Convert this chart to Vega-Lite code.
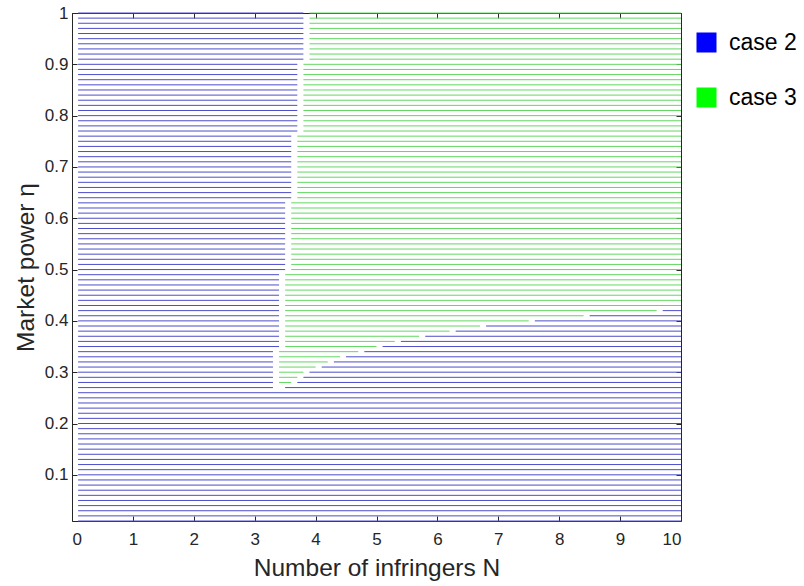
{
  "$schema": "https://vega.github.io/schema/vega-lite/v6.json",
  "autosize": {"type": "none"},
  "width": 609,
  "height": 508,
  "padding": {"left": 72, "top": 13, "right": 123, "bottom": 65},
  "background": "white",
  "config": {"view": {"stroke": null}, "font": "Liberation Sans"},
  "datasets": {
    "segs": [
    {"e":0.01,"a":0.1,"b":10,"c":"case 2"},{"e":0.02,"a":0.1,"b":10,"c":"case 2"},{"e":0.03,"a":0.1,"b":10,"c":"case 2"},{"e":0.04,"a":0.1,"b":10,"c":"case 2"},{"e":0.05,"a":0.1,"b":10,"c":"case 2"},
    {"e":0.06,"a":0.1,"b":10,"c":"case 2"},{"e":0.07,"a":0.1,"b":10,"c":"case 2"},{"e":0.08,"a":0.1,"b":10,"c":"case 2"},{"e":0.09,"a":0.1,"b":10,"c":"case 2"},{"e":0.10,"a":0.1,"b":10,"c":"case 2"},
    {"e":0.11,"a":0.1,"b":10,"c":"case 2"},{"e":0.12,"a":0.1,"b":10,"c":"case 2"},{"e":0.13,"a":0.1,"b":10,"c":"case 2"},{"e":0.14,"a":0.1,"b":10,"c":"case 2"},{"e":0.15,"a":0.1,"b":10,"c":"case 2"},
    {"e":0.16,"a":0.1,"b":10,"c":"case 2"},{"e":0.17,"a":0.1,"b":10,"c":"case 2"},{"e":0.18,"a":0.1,"b":10,"c":"case 2"},{"e":0.19,"a":0.1,"b":10,"c":"case 2"},{"e":0.20,"a":0.1,"b":10,"c":"case 2"},
    {"e":0.21,"a":0.1,"b":10,"c":"case 2"},{"e":0.22,"a":0.1,"b":10,"c":"case 2"},{"e":0.23,"a":0.1,"b":10,"c":"case 2"},{"e":0.24,"a":0.1,"b":10,"c":"case 2"},{"e":0.25,"a":0.1,"b":10,"c":"case 2"},
    {"e":0.26,"a":0.1,"b":10,"c":"case 2"},
    {"e":0.27,"a":0.1,"b":3.3,"c":"case 2"},{"e":0.27,"a":3.5,"b":10,"c":"case 2"},
    {"e":0.28,"a":0.1,"b":3.3,"c":"case 2"},{"e":0.28,"a":3.4,"b":3.6,"c":"case 3"},{"e":0.28,"a":3.7,"b":10,"c":"case 2"},
    {"e":0.29,"a":0.1,"b":3.3,"c":"case 2"},{"e":0.29,"a":3.4,"b":3.7,"c":"case 3"},{"e":0.29,"a":3.8,"b":10,"c":"case 2"},
    {"e":0.30,"a":0.1,"b":3.3,"c":"case 2"},{"e":0.30,"a":3.4,"b":3.8,"c":"case 3"},{"e":0.30,"a":3.9,"b":10,"c":"case 2"},
    {"e":0.31,"a":0.1,"b":3.3,"c":"case 2"},{"e":0.31,"a":3.4,"b":4.0,"c":"case 3"},{"e":0.31,"a":4.1,"b":10,"c":"case 2"},
    {"e":0.32,"a":0.1,"b":3.3,"c":"case 2"},{"e":0.32,"a":3.4,"b":4.2,"c":"case 3"},{"e":0.32,"a":4.3,"b":10,"c":"case 2"},
    {"e":0.33,"a":0.1,"b":3.3,"c":"case 2"},{"e":0.33,"a":3.4,"b":4.4,"c":"case 3"},{"e":0.33,"a":4.5,"b":10,"c":"case 2"},
    {"e":0.34,"a":0.1,"b":3.3,"c":"case 2"},{"e":0.34,"a":3.4,"b":4.7,"c":"case 3"},{"e":0.34,"a":4.8,"b":10,"c":"case 2"},
    {"e":0.35,"a":0.1,"b":3.4,"c":"case 2"},{"e":0.35,"a":3.5,"b":5.0,"c":"case 3"},{"e":0.35,"a":5.1,"b":10,"c":"case 2"},
    {"e":0.36,"a":0.1,"b":3.4,"c":"case 2"},{"e":0.36,"a":3.5,"b":5.3,"c":"case 3"},{"e":0.36,"a":5.4,"b":10,"c":"case 2"},
    {"e":0.37,"a":0.1,"b":3.4,"c":"case 2"},{"e":0.37,"a":3.5,"b":5.7,"c":"case 3"},{"e":0.37,"a":5.8,"b":10,"c":"case 2"},
    {"e":0.38,"a":0.1,"b":3.4,"c":"case 2"},{"e":0.38,"a":3.5,"b":6.2,"c":"case 3"},{"e":0.38,"a":6.3,"b":10,"c":"case 2"},
    {"e":0.39,"a":0.1,"b":3.4,"c":"case 2"},{"e":0.39,"a":3.5,"b":6.7,"c":"case 3"},{"e":0.39,"a":6.8,"b":10,"c":"case 2"},
    {"e":0.40,"a":0.1,"b":3.4,"c":"case 2"},{"e":0.40,"a":3.5,"b":7.5,"c":"case 3"},{"e":0.40,"a":7.6,"b":10,"c":"case 2"},
    {"e":0.41,"a":0.1,"b":3.4,"c":"case 2"},{"e":0.41,"a":3.5,"b":8.4,"c":"case 3"},{"e":0.41,"a":8.5,"b":10,"c":"case 2"},
    {"e":0.42,"a":0.1,"b":3.4,"c":"case 2"},{"e":0.42,"a":3.5,"b":9.6,"c":"case 3"},{"e":0.42,"a":9.7,"b":10,"c":"case 2"},
    {"e":0.43,"a":0.1,"b":3.4,"c":"case 2"},{"e":0.43,"a":3.5,"b":10,"c":"case 3"},
    {"e":0.44,"a":0.1,"b":3.4,"c":"case 2"},{"e":0.44,"a":3.5,"b":10,"c":"case 3"},
    {"e":0.45,"a":0.1,"b":3.4,"c":"case 2"},{"e":0.45,"a":3.5,"b":10,"c":"case 3"},
    {"e":0.46,"a":0.1,"b":3.4,"c":"case 2"},{"e":0.46,"a":3.5,"b":10,"c":"case 3"},
    {"e":0.47,"a":0.1,"b":3.4,"c":"case 2"},{"e":0.47,"a":3.5,"b":10,"c":"case 3"},
    {"e":0.48,"a":0.1,"b":3.4,"c":"case 2"},{"e":0.48,"a":3.5,"b":10,"c":"case 3"},
    {"e":0.49,"a":0.1,"b":3.4,"c":"case 2"},{"e":0.49,"a":3.5,"b":10,"c":"case 3"},
    {"e":0.50,"a":0.1,"b":3.5,"c":"case 2"},{"e":0.50,"a":3.6,"b":10,"c":"case 3"},
    {"e":0.51,"a":0.1,"b":3.5,"c":"case 2"},{"e":0.51,"a":3.6,"b":10,"c":"case 3"},
    {"e":0.52,"a":0.1,"b":3.5,"c":"case 2"},{"e":0.52,"a":3.6,"b":10,"c":"case 3"},
    {"e":0.53,"a":0.1,"b":3.5,"c":"case 2"},{"e":0.53,"a":3.6,"b":10,"c":"case 3"},
    {"e":0.54,"a":0.1,"b":3.5,"c":"case 2"},{"e":0.54,"a":3.6,"b":10,"c":"case 3"},
    {"e":0.55,"a":0.1,"b":3.5,"c":"case 2"},{"e":0.55,"a":3.6,"b":10,"c":"case 3"},
    {"e":0.56,"a":0.1,"b":3.5,"c":"case 2"},{"e":0.56,"a":3.6,"b":10,"c":"case 3"},
    {"e":0.57,"a":0.1,"b":3.5,"c":"case 2"},{"e":0.57,"a":3.6,"b":10,"c":"case 3"},
    {"e":0.58,"a":0.1,"b":3.5,"c":"case 2"},{"e":0.58,"a":3.6,"b":10,"c":"case 3"},
    {"e":0.59,"a":0.1,"b":3.5,"c":"case 2"},{"e":0.59,"a":3.6,"b":10,"c":"case 3"},
    {"e":0.60,"a":0.1,"b":3.5,"c":"case 2"},{"e":0.60,"a":3.6,"b":10,"c":"case 3"},
    {"e":0.61,"a":0.1,"b":3.5,"c":"case 2"},{"e":0.61,"a":3.6,"b":10,"c":"case 3"},
    {"e":0.62,"a":0.1,"b":3.5,"c":"case 2"},{"e":0.62,"a":3.6,"b":10,"c":"case 3"},
    {"e":0.63,"a":0.1,"b":3.5,"c":"case 2"},{"e":0.63,"a":3.6,"b":10,"c":"case 3"},
    {"e":0.64,"a":0.1,"b":3.6,"c":"case 2"},{"e":0.64,"a":3.7,"b":10,"c":"case 3"},
    {"e":0.65,"a":0.1,"b":3.6,"c":"case 2"},{"e":0.65,"a":3.7,"b":10,"c":"case 3"},
    {"e":0.66,"a":0.1,"b":3.6,"c":"case 2"},{"e":0.66,"a":3.7,"b":10,"c":"case 3"},
    {"e":0.67,"a":0.1,"b":3.6,"c":"case 2"},{"e":0.67,"a":3.7,"b":10,"c":"case 3"},
    {"e":0.68,"a":0.1,"b":3.6,"c":"case 2"},{"e":0.68,"a":3.7,"b":10,"c":"case 3"},
    {"e":0.69,"a":0.1,"b":3.6,"c":"case 2"},{"e":0.69,"a":3.7,"b":10,"c":"case 3"},
    {"e":0.70,"a":0.1,"b":3.6,"c":"case 2"},{"e":0.70,"a":3.7,"b":10,"c":"case 3"},
    {"e":0.71,"a":0.1,"b":3.6,"c":"case 2"},{"e":0.71,"a":3.7,"b":10,"c":"case 3"},
    {"e":0.72,"a":0.1,"b":3.6,"c":"case 2"},{"e":0.72,"a":3.7,"b":10,"c":"case 3"},
    {"e":0.73,"a":0.1,"b":3.6,"c":"case 2"},{"e":0.73,"a":3.7,"b":10,"c":"case 3"},
    {"e":0.74,"a":0.1,"b":3.6,"c":"case 2"},{"e":0.74,"a":3.7,"b":10,"c":"case 3"},
    {"e":0.75,"a":0.1,"b":3.6,"c":"case 2"},{"e":0.75,"a":3.7,"b":10,"c":"case 3"},
    {"e":0.76,"a":0.1,"b":3.6,"c":"case 2"},{"e":0.76,"a":3.7,"b":10,"c":"case 3"},
    {"e":0.77,"a":0.1,"b":3.7,"c":"case 2"},{"e":0.77,"a":3.8,"b":10,"c":"case 3"},
    {"e":0.78,"a":0.1,"b":3.7,"c":"case 2"},{"e":0.78,"a":3.8,"b":10,"c":"case 3"},
    {"e":0.79,"a":0.1,"b":3.7,"c":"case 2"},{"e":0.79,"a":3.8,"b":10,"c":"case 3"},
    {"e":0.80,"a":0.1,"b":3.7,"c":"case 2"},{"e":0.80,"a":3.8,"b":10,"c":"case 3"},
    {"e":0.81,"a":0.1,"b":3.7,"c":"case 2"},{"e":0.81,"a":3.8,"b":10,"c":"case 3"},
    {"e":0.82,"a":0.1,"b":3.7,"c":"case 2"},{"e":0.82,"a":3.8,"b":10,"c":"case 3"},
    {"e":0.83,"a":0.1,"b":3.7,"c":"case 2"},{"e":0.83,"a":3.8,"b":10,"c":"case 3"},
    {"e":0.84,"a":0.1,"b":3.7,"c":"case 2"},{"e":0.84,"a":3.8,"b":10,"c":"case 3"},
    {"e":0.85,"a":0.1,"b":3.7,"c":"case 2"},{"e":0.85,"a":3.8,"b":10,"c":"case 3"},
    {"e":0.86,"a":0.1,"b":3.7,"c":"case 2"},{"e":0.86,"a":3.8,"b":10,"c":"case 3"},
    {"e":0.87,"a":0.1,"b":3.7,"c":"case 2"},{"e":0.87,"a":3.8,"b":10,"c":"case 3"},
    {"e":0.88,"a":0.1,"b":3.7,"c":"case 2"},{"e":0.88,"a":3.8,"b":10,"c":"case 3"},
    {"e":0.89,"a":0.1,"b":3.7,"c":"case 2"},{"e":0.89,"a":3.8,"b":10,"c":"case 3"},
    {"e":0.90,"a":0.1,"b":3.7,"c":"case 2"},{"e":0.90,"a":3.8,"b":10,"c":"case 3"},
    {"e":0.91,"a":0.1,"b":3.8,"c":"case 2"},{"e":0.91,"a":3.9,"b":10,"c":"case 3"},
    {"e":0.92,"a":0.1,"b":3.8,"c":"case 2"},{"e":0.92,"a":3.9,"b":10,"c":"case 3"},
    {"e":0.93,"a":0.1,"b":3.8,"c":"case 2"},{"e":0.93,"a":3.9,"b":10,"c":"case 3"},
    {"e":0.94,"a":0.1,"b":3.8,"c":"case 2"},{"e":0.94,"a":3.9,"b":10,"c":"case 3"},
    {"e":0.95,"a":0.1,"b":3.8,"c":"case 2"},{"e":0.95,"a":3.9,"b":10,"c":"case 3"},
    {"e":0.96,"a":0.1,"b":3.8,"c":"case 2"},{"e":0.96,"a":3.9,"b":10,"c":"case 3"},
    {"e":0.97,"a":0.1,"b":3.8,"c":"case 2"},{"e":0.97,"a":3.9,"b":10,"c":"case 3"},
    {"e":0.98,"a":0.1,"b":3.8,"c":"case 2"},{"e":0.98,"a":3.9,"b":10,"c":"case 3"},
    {"e":0.99,"a":0.1,"b":3.8,"c":"case 2"},{"e":0.99,"a":3.9,"b":10,"c":"case 3"},
    {"e":1.00,"a":0.1,"b":3.8,"c":"case 2"},{"e":1.00,"a":3.9,"b":10,"c":"case 3"}
    ],
    "keys": [{"k": "case 2"}, {"k": "case 3"}]
  },
  "layer": [
    {
      "data": {"name": "segs"},
      "mark": {"type": "rule", "strokeWidth": 1},
      "encoding": {
        "x": {"field": "a", "type": "quantitative",
          "scale": {"domain": [0, 10], "nice": false, "zero": false},
          "axis": {"values": [0,1,2,3,4,5,6,7,8,9,10], "grid": false, "tickSize": -5,
            "domainColor": "#262626", "tickColor": "#262626", "labelColor": "#262626",
            "labelFontSize": 17, "labelPadding": 15, "labelFont": "Liberation Sans",
            "title": "Number of infringers N", "titleFontSize": 24.5, "titleFontWeight": "normal",
            "titleColor": "#262626", "titleFont": "Liberation Sans", "titlePadding": 9}},
        "x2": {"field": "b"},
        "y": {"field": "e", "type": "quantitative",
          "scale": {"domain": [0.01, 1], "nice": false, "zero": false},
          "axis": {"values": [0.1,0.2,0.3,0.4,0.5,0.6,0.7,0.8,0.9,1], "format": "~g", "grid": false, "tickSize": -5,
            "domainColor": "#262626", "tickColor": "#262626", "labelColor": "#262626",
            "labelFontSize": 17, "labelPadding": 9, "labelFont": "Liberation Sans",
            "title": "Market power η", "titleFontSize": 24.5, "titleFontWeight": "normal",
            "titleColor": "#262626", "titleFont": "Liberation Sans", "titlePadding": 6}},
        "color": {"field": "c", "type": "nominal",
          "scale": {"domain": ["case 2", "case 3"], "range": ["#4d4dcc", "#62d862"]},
          "legend": null}
      }
    },
    {
      "data": {"name": "segs"},
      "mark": {"type": "rule", "opacity": 0},
      "encoding": {
        "x": {"field": "a", "type": "quantitative",
          "axis": {"orient": "top", "values": [0,1,2,3,4,5,6,7,8,9,10], "labels": false, "title": null, "grid": false,
            "tickSize": -5, "domainColor": "#262626", "tickColor": "#262626"}},
        "x2": {"field": "b"},
        "y": {"field": "e", "type": "quantitative",
          "axis": {"orient": "right", "values": [0.1,0.2,0.3,0.4,0.5,0.6,0.7,0.8,0.9,1], "labels": false, "title": null, "grid": false,
            "tickSize": -5, "domainColor": "#262626", "tickColor": "#262626"}}
      }
    },
    {
      "data": {"name": "keys"},
      "mark": {"type": "square", "size": 0},
      "encoding": {
        "fill": {"field": "k", "type": "nominal",
          "scale": {"domain": ["case 2", "case 3"], "range": ["#0000ff", "#00ff00"]},
          "legend": {"title": null, "orient": "none", "legendX": 623, "legendY": 18,
            "symbolType": "square", "symbolSize": 400, "symbolOpacity": 1, "symbolStrokeWidth": 0,
            "labelFontSize": 23, "labelFont": "Liberation Sans", "labelColor": "#000000",
            "labelOffset": 11, "rowPadding": 31, "padding": 0}}
      }
    }
  ],
  "resolve": {"axis": {"x": "independent", "y": "independent"}, "legend": {"fill": "independent"}, "scale": {"fill": "independent", "color": "independent"}}
}
